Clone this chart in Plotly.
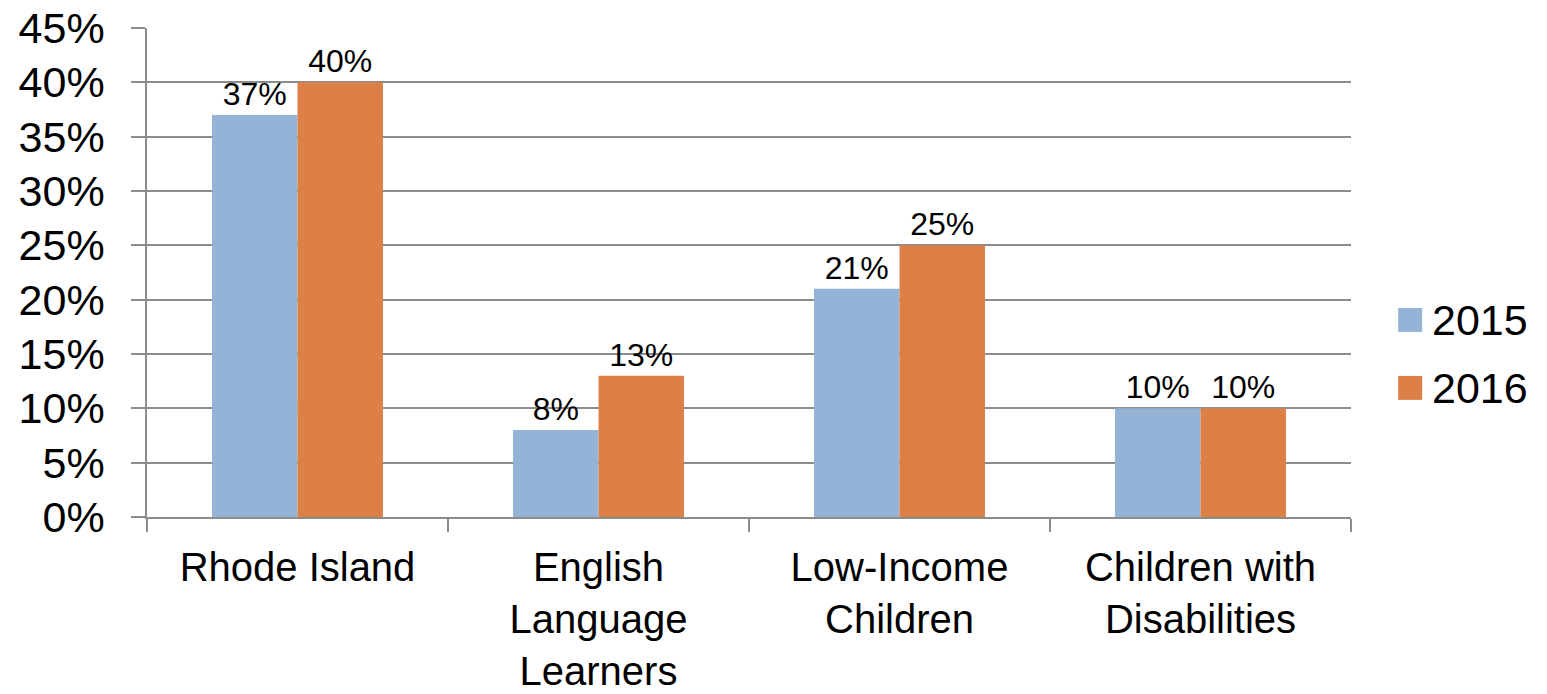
import plotly.graph_objects as go

# Category labels (line breaks as shown under the axis)
categories = [
    "Rhode Island",
    "English<br>Language<br>Learners",
    "Low-Income<br>Children",
    "Children with<br>Disabilities",
]
series_names = ["2015", "2016"]
values_2015 = [0.37, 0.08, 0.21, 0.10]
values_2016 = [0.40, 0.13, 0.25, 0.10]
colors = ["#95B3D7", "#DD8047"]

FONT = "Liberation Sans"
GRID = "#8c8c8c"

fig = go.Figure()
for name, vals, col in zip(series_names, [values_2015, values_2016], colors):
    fig.add_trace(go.Bar(
        x=categories,
        y=vals,
        name=name,
        marker=dict(color=col, line=dict(width=0)),
        text=[f"{v:.0%}" for v in vals],
        textposition="outside",
        textfont=dict(family=FONT, size=32, color="#000000"),
        cliponaxis=False,
        showlegend=False,
    ))

# Legend drawn as large squares with labels to the right of the plot
for i, (name, col) in enumerate(zip(series_names, colors)):
    yc = 0.403 - i * 0.139
    fig.add_shape(type="rect", xref="paper", yref="paper",
                  x0=1.0392, x1=1.0591, y0=yc - 0.0245, y1=yc + 0.0245,
                  fillcolor=col, line=dict(width=0))
    fig.add_annotation(xref="paper", yref="paper", x=1.066, y=yc,
                       text=name, showarrow=False, xanchor="left", yanchor="middle",
                       font=dict(family=FONT, size=43, color="#000000"))

fig.update_layout(
    width=1547, height=694,
    margin=dict(l=147, r=196, t=28, b=177, autoexpand=False),
    paper_bgcolor="white", plot_bgcolor="white",
    barmode="group", bargap=0.432, bargroupgap=0,
    font=dict(family=FONT, color="#000000"),
)
fig.update_xaxes(
    type="category",
    range=[-0.5, 3.5],
    automargin=False,
    showline=True, linecolor=GRID, linewidth=1.5,
    ticks="outside", tickson="boundaries", ticklen=13, tickcolor=GRID, tickwidth=1.5,
    tickfont=dict(family=FONT, size=40, color="#000000"),
    ticklabelstandoff=14,
    showgrid=False,
)
fig.update_yaxes(
    range=[0, 0.45], dtick=0.05, tick0=0, tickformat=".0%",
    automargin=False,
    showline=True, linecolor=GRID, linewidth=1.5,
    showgrid=True, gridcolor=GRID, gridwidth=1.5,
    ticks="outside", ticklen=14, tickcolor=GRID, tickwidth=1.5,
    tickfont=dict(family=FONT, size=43, color="#000000"),
    ticklabelstandoff=18,
    zeroline=False,
)

fig.write_html("out.html")
